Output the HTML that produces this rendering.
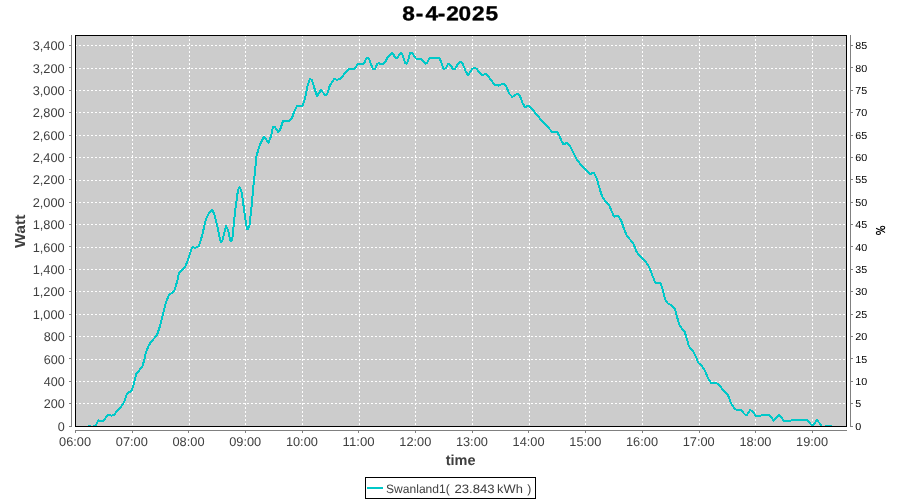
<!DOCTYPE html>
<html><head><meta charset="utf-8"><title>8-4-2025</title>
<style>html,body{margin:0;padding:0;background:#fff;}body{width:900px;height:500px;overflow:hidden;font-family:"Liberation Sans",sans-serif;}svg{display:block;will-change:transform;text-rendering:geometricPrecision;}text{font-family:"Liberation Sans",sans-serif;}</style>
</head><body>
<svg width="900" height="500" viewBox="0 0 900 500">
<rect x="0" y="0" width="900" height="500" fill="#ffffff"/>
<text transform="translate(450,20.3) rotate(0.05) translate(-450,0) scale(1.12,1)" x="359.25 371.15 379.85 390.80 398.56 409.36 421.42 433.55" y="0" font-size="20.2" font-weight="bold" fill="#000" stroke="#000" stroke-width="0.35">8-4-2025</text>
<rect x="75" y="35" width="771" height="391" fill="#cccccc"/>
<g stroke="#ffffff" stroke-width="1" stroke-dasharray="2,2" shape-rendering="crispEdges" fill="none">
<line x1="132.5" y1="35" x2="132.5" y2="426"/>
<line x1="189.5" y1="35" x2="189.5" y2="426"/>
<line x1="245.5" y1="35" x2="245.5" y2="426"/>
<line x1="302.5" y1="35" x2="302.5" y2="426"/>
<line x1="359.5" y1="35" x2="359.5" y2="426"/>
<line x1="415.5" y1="35" x2="415.5" y2="426"/>
<line x1="472.5" y1="35" x2="472.5" y2="426"/>
<line x1="529.5" y1="35" x2="529.5" y2="426"/>
<line x1="585.5" y1="35" x2="585.5" y2="426"/>
<line x1="642.5" y1="35" x2="642.5" y2="426"/>
<line x1="699.5" y1="35" x2="699.5" y2="426"/>
<line x1="755.5" y1="35" x2="755.5" y2="426"/>
<line x1="812.5" y1="35" x2="812.5" y2="426"/>
<line x1="75" y1="403.5" x2="846" y2="403.5"/>
<line x1="75" y1="381.5" x2="846" y2="381.5"/>
<line x1="75" y1="359.5" x2="846" y2="359.5"/>
<line x1="75" y1="336.5" x2="846" y2="336.5"/>
<line x1="75" y1="314.5" x2="846" y2="314.5"/>
<line x1="75" y1="291.5" x2="846" y2="291.5"/>
<line x1="75" y1="269.5" x2="846" y2="269.5"/>
<line x1="75" y1="247.5" x2="846" y2="247.5"/>
<line x1="75" y1="224.5" x2="846" y2="224.5"/>
<line x1="75" y1="202.5" x2="846" y2="202.5"/>
<line x1="75" y1="180.5" x2="846" y2="180.5"/>
<line x1="75" y1="157.5" x2="846" y2="157.5"/>
<line x1="75" y1="135.5" x2="846" y2="135.5"/>
<line x1="75" y1="112.5" x2="846" y2="112.5"/>
<line x1="75" y1="90.5" x2="846" y2="90.5"/>
<line x1="75" y1="68.5" x2="846" y2="68.5"/>
<line x1="75" y1="45.5" x2="846" y2="45.5"/>
</g>
<polyline points="88.0,425.5 91.0,425.5" fill="none" stroke="#00c8c8" stroke-width="2" stroke-linejoin="round" stroke-linecap="butt" shape-rendering="crispEdges"/>
<polyline points="93.0,425.5 96.0,425.5 98.3,420.2 100.8,421.0 103.6,420.7 106.4,416.8 107.5,414.8 111.7,415.7 114.2,414.8 117.0,410.9 120.4,407.8 122.6,404.5 124.3,401.7 126.8,394.0 131.7,390.4 133.5,385.0 136.2,374.2 142.5,366.1 144.3,359.8 146.1,351.7 148.8,345.4 151.0,342.0 157.0,335.0 160.0,326.0 163.0,314.0 166.0,302.0 169.0,295.0 174.0,291.6 177.0,282.0 179.0,273.0 185.0,267.0 188.0,260.0 190.0,253.0 192.4,247.0 195.0,248.0 199.0,246.0 202.0,236.0 206.0,219.0 209.0,213.0 212.0,210.0 214.0,213.0 217.0,225.0 220.3,240.5 221.2,242.4 222.2,241.0 223.0,238.0 226.0,226.0 228.0,230.0 229.6,237.5 230.5,241.2 231.5,241.4 232.4,238.5 235.0,212.0 238.0,190.0 239.6,187.0 241.6,192.0 245.0,216.0 246.2,225.0 247.2,228.8 248.3,228.6 249.6,225.0 252.0,202.0 254.0,180.0 255.3,170.0 256.0,158.0 259.0,147.0 263.6,137.0 266.0,139.0 268.6,143.0 271.0,136.0 273.0,127.0 275.0,127.0 278.0,132.0 280.0,130.0 283.0,121.0 287.0,121.0 289.0,121.6 292.0,118.0 294.0,112.0 297.0,106.0 301.0,106.4 303.0,105.0 305.0,98.0 308.0,84.0 310.0,79.0 312.0,80.0 314.0,87.0 317.0,96.0 321.0,90.0 325.0,95.0 327.0,94.4 330.0,85.0 334.0,79.4 337.0,79.6 340.0,79.2 344.4,73.9 348.9,68.9 352.8,69.4 355.0,68.3 357.8,63.9 362.8,63.9 364.4,62.8 366.1,58.9 367.8,57.8 369.4,60.0 372.8,68.9 375.0,68.9 377.2,63.9 378.9,63.3 380.6,63.9 382.8,63.9 385.6,61.1 387.8,57.2 391.7,52.8 393.3,54.4 395.6,58.3 397.2,58.3 400.6,52.8 402.2,53.9 405.0,62.8 406.7,63.9 408.3,60.0 410.0,52.8 411.7,52.8 413.9,55.6 416.1,58.7 420.6,58.7 422.8,61.1 425.6,63.9 427.2,62.8 429.4,58.3 431.1,57.8 432.8,58.5 434.4,58.3 439.4,57.8 441.1,61.7 443.3,68.9 445.6,68.3 448.3,63.9 450.6,65.0 452.8,68.9 455.0,68.9 458.3,63.3 460.6,61.7 462.8,63.9 465.6,71.1 467.8,75.0 469.4,73.3 472.2,68.9 474.4,67.8 476.7,68.9 479.4,72.8 482.2,75.0 486.1,73.9 488.9,77.2 492.2,81.7 495.0,85.0 498.3,85.6 502.2,83.9 504.4,84.4 506.7,87.2 508.9,93.3 510.0,94.5 512.4,97.0 515.0,95.0 518.0,93.6 520.0,96.0 523.0,104.0 525.0,107.0 529.0,105.6 532.0,109.0 537.0,115.0 542.0,121.0 548.0,127.0 552.0,132.0 557.0,132.0 559.0,135.0 562.0,142.0 563.6,144.4 567.0,142.6 570.0,146.0 573.0,152.0 577.0,160.0 582.0,166.0 586.0,170.4 590.0,174.0 594.0,172.8 596.6,178.0 599.4,188.0 602.0,196.0 605.0,200.6 609.0,205.0 612.0,212.0 614.0,216.6 618.0,216.0 621.0,220.0 624.0,229.0 627.0,236.0 633.0,243.0 637.0,252.5 643.0,259.0 647.4,264.0 650.0,269.0 653.0,277.0 655.4,283.0 660.6,283.0 662.6,289.0 665.0,299.0 668.0,303.6 672.0,305.6 675.0,309.0 677.4,318.0 679.4,325.0 682.0,328.6 684.6,331.6 686.6,338.0 689.0,346.5 693.0,351.0 696.0,357.0 698.4,363.0 702.0,366.0 705.0,371.0 708.0,378.0 711.0,383.0 718.0,383.6 722.0,388.6 728.0,395.0 731.0,403.0 735.0,409.4 741.0,410.0 745.0,414.6 747.0,415.0 750.0,410.0 752.4,411.0 756.0,416.0 759.0,416.0 760.6,415.6 762.8,414.8 768.9,414.8 773.9,420.6 778.9,414.8 783.9,420.6 807.2,420.3 811.7,425.2 813.3,425.2 816.7,420.0 821.7,425.5" fill="none" stroke="#00c8c8" stroke-width="2" stroke-linejoin="round" stroke-linecap="butt" shape-rendering="crispEdges"/>
<polyline points="825.0,425.5 832.0,425.5" fill="none" stroke="#00c8c8" stroke-width="2" stroke-linejoin="round" stroke-linecap="butt" shape-rendering="crispEdges"/>
<rect x="75.5" y="35.5" width="771" height="391" fill="none" stroke="#000" stroke-width="1.4" shape-rendering="crispEdges"/>
<g stroke="#808080" stroke-width="1" shape-rendering="crispEdges" fill="none">
<line x1="71.5" y1="35" x2="71.5" y2="427"/>
<line x1="850.5" y1="35" x2="850.5" y2="427"/>
<line x1="75" y1="430.5" x2="847" y2="430.5"/>
<line x1="69" y1="426.5" x2="71" y2="426.5"/>
<line x1="851" y1="426.5" x2="853" y2="426.5"/>
<line x1="69" y1="403.5" x2="71" y2="403.5"/>
<line x1="851" y1="403.5" x2="853" y2="403.5"/>
<line x1="69" y1="381.5" x2="71" y2="381.5"/>
<line x1="851" y1="381.5" x2="853" y2="381.5"/>
<line x1="69" y1="358.5" x2="71" y2="358.5"/>
<line x1="851" y1="358.5" x2="853" y2="358.5"/>
<line x1="69" y1="336.5" x2="71" y2="336.5"/>
<line x1="851" y1="336.5" x2="853" y2="336.5"/>
<line x1="69" y1="314.5" x2="71" y2="314.5"/>
<line x1="851" y1="314.5" x2="853" y2="314.5"/>
<line x1="69" y1="291.5" x2="71" y2="291.5"/>
<line x1="851" y1="291.5" x2="853" y2="291.5"/>
<line x1="69" y1="269.5" x2="71" y2="269.5"/>
<line x1="851" y1="269.5" x2="853" y2="269.5"/>
<line x1="69" y1="246.5" x2="71" y2="246.5"/>
<line x1="851" y1="246.5" x2="853" y2="246.5"/>
<line x1="69" y1="224.5" x2="71" y2="224.5"/>
<line x1="851" y1="224.5" x2="853" y2="224.5"/>
<line x1="69" y1="202.5" x2="71" y2="202.5"/>
<line x1="851" y1="202.5" x2="853" y2="202.5"/>
<line x1="69" y1="179.5" x2="71" y2="179.5"/>
<line x1="851" y1="179.5" x2="853" y2="179.5"/>
<line x1="69" y1="157.5" x2="71" y2="157.5"/>
<line x1="851" y1="157.5" x2="853" y2="157.5"/>
<line x1="69" y1="135.5" x2="71" y2="135.5"/>
<line x1="851" y1="135.5" x2="853" y2="135.5"/>
<line x1="69" y1="112.5" x2="71" y2="112.5"/>
<line x1="851" y1="112.5" x2="853" y2="112.5"/>
<line x1="69" y1="90.5" x2="71" y2="90.5"/>
<line x1="851" y1="90.5" x2="853" y2="90.5"/>
<line x1="69" y1="67.5" x2="71" y2="67.5"/>
<line x1="851" y1="67.5" x2="853" y2="67.5"/>
<line x1="69" y1="45.5" x2="71" y2="45.5"/>
<line x1="851" y1="45.5" x2="853" y2="45.5"/>
<line x1="75.5" y1="431" x2="75.5" y2="433"/>
<line x1="132.5" y1="431" x2="132.5" y2="433"/>
<line x1="188.5" y1="431" x2="188.5" y2="433"/>
<line x1="245.5" y1="431" x2="245.5" y2="433"/>
<line x1="302.5" y1="431" x2="302.5" y2="433"/>
<line x1="358.5" y1="431" x2="358.5" y2="433"/>
<line x1="415.5" y1="431" x2="415.5" y2="433"/>
<line x1="472.5" y1="431" x2="472.5" y2="433"/>
<line x1="528.5" y1="431" x2="528.5" y2="433"/>
<line x1="585.5" y1="431" x2="585.5" y2="433"/>
<line x1="642.5" y1="431" x2="642.5" y2="433"/>
<line x1="699.5" y1="431" x2="699.5" y2="433"/>
<line x1="755.5" y1="431" x2="755.5" y2="433"/>
<line x1="812.5" y1="431" x2="812.5" y2="433"/>
</g>
<g font-size="12.7" fill="#404040">
<text x="57.7" y="430.9" textLength="7" lengthAdjust="spacingAndGlyphs">0</text>
<text x="43.7" y="407.9" textLength="21" lengthAdjust="spacingAndGlyphs">200</text>
<text x="43.7" y="385.9" textLength="21" lengthAdjust="spacingAndGlyphs">400</text>
<text x="43.7" y="363.9" textLength="21" lengthAdjust="spacingAndGlyphs">600</text>
<text x="43.7" y="340.9" textLength="21" lengthAdjust="spacingAndGlyphs">800</text>
<text x="32.7" y="318.9" textLength="32" lengthAdjust="spacingAndGlyphs">1,000</text>
<text x="32.7" y="295.9" textLength="32" lengthAdjust="spacingAndGlyphs">1,200</text>
<text x="32.7" y="273.9" textLength="32" lengthAdjust="spacingAndGlyphs">1,400</text>
<text x="32.7" y="251.9" textLength="32" lengthAdjust="spacingAndGlyphs">1,600</text>
<text x="32.7" y="228.9" textLength="32" lengthAdjust="spacingAndGlyphs">1,800</text>
<text x="32.7" y="206.9" textLength="32" lengthAdjust="spacingAndGlyphs">2,000</text>
<text x="32.7" y="183.9" textLength="32" lengthAdjust="spacingAndGlyphs">2,200</text>
<text x="32.7" y="161.9" textLength="32" lengthAdjust="spacingAndGlyphs">2,400</text>
<text x="32.7" y="139.9" textLength="32" lengthAdjust="spacingAndGlyphs">2,600</text>
<text x="32.7" y="116.9" textLength="32" lengthAdjust="spacingAndGlyphs">2,800</text>
<text x="32.7" y="94.9" textLength="32" lengthAdjust="spacingAndGlyphs">3,000</text>
<text x="32.7" y="72.9" textLength="32" lengthAdjust="spacingAndGlyphs">3,200</text>
<text x="32.7" y="49.9" textLength="32" lengthAdjust="spacingAndGlyphs">3,400</text>
</g>
<g font-size="10.2" fill="#000">
<text x="855.3" y="429.9" textLength="6" lengthAdjust="spacingAndGlyphs">0</text>
<text x="855.3" y="406.9" textLength="6" lengthAdjust="spacingAndGlyphs">5</text>
<text x="855.3" y="384.9" textLength="12" lengthAdjust="spacingAndGlyphs">10</text>
<text x="855.3" y="362.9" textLength="12" lengthAdjust="spacingAndGlyphs">15</text>
<text x="855.3" y="339.9" textLength="12" lengthAdjust="spacingAndGlyphs">20</text>
<text x="855.3" y="317.9" textLength="12" lengthAdjust="spacingAndGlyphs">25</text>
<text x="855.3" y="294.9" textLength="12" lengthAdjust="spacingAndGlyphs">30</text>
<text x="855.3" y="272.9" textLength="12" lengthAdjust="spacingAndGlyphs">35</text>
<text x="855.3" y="250.9" textLength="12" lengthAdjust="spacingAndGlyphs">40</text>
<text x="855.3" y="227.9" textLength="12" lengthAdjust="spacingAndGlyphs">45</text>
<text x="855.3" y="205.9" textLength="12" lengthAdjust="spacingAndGlyphs">50</text>
<text x="855.3" y="182.9" textLength="12" lengthAdjust="spacingAndGlyphs">55</text>
<text x="855.3" y="160.9" textLength="12" lengthAdjust="spacingAndGlyphs">60</text>
<text x="855.3" y="138.9" textLength="12" lengthAdjust="spacingAndGlyphs">65</text>
<text x="855.3" y="115.9" textLength="12" lengthAdjust="spacingAndGlyphs">70</text>
<text x="855.3" y="93.9" textLength="12" lengthAdjust="spacingAndGlyphs">75</text>
<text x="855.3" y="71.9" textLength="12" lengthAdjust="spacingAndGlyphs">80</text>
<text x="855.3" y="48.9" textLength="12" lengthAdjust="spacingAndGlyphs">85</text>
</g>
<g font-size="12.7" fill="#404040">
<text x="59.1" y="446.0" textLength="32" lengthAdjust="spacingAndGlyphs">06:00</text>
<text x="115.8" y="446.0" textLength="32" lengthAdjust="spacingAndGlyphs">07:00</text>
<text x="172.5" y="446.0" textLength="32" lengthAdjust="spacingAndGlyphs">08:00</text>
<text x="229.2" y="446.0" textLength="32" lengthAdjust="spacingAndGlyphs">09:00</text>
<text x="285.9" y="446.0" textLength="32" lengthAdjust="spacingAndGlyphs">10:00</text>
<text x="342.6" y="446.0" textLength="32" lengthAdjust="spacingAndGlyphs">11:00</text>
<text x="399.3" y="446.0" textLength="32" lengthAdjust="spacingAndGlyphs">12:00</text>
<text x="455.9" y="446.0" textLength="32" lengthAdjust="spacingAndGlyphs">13:00</text>
<text x="512.6" y="446.0" textLength="32" lengthAdjust="spacingAndGlyphs">14:00</text>
<text x="569.3" y="446.0" textLength="32" lengthAdjust="spacingAndGlyphs">15:00</text>
<text x="626.0" y="446.0" textLength="32" lengthAdjust="spacingAndGlyphs">16:00</text>
<text x="682.7" y="446.0" textLength="32" lengthAdjust="spacingAndGlyphs">17:00</text>
<text x="739.4" y="446.0" textLength="32" lengthAdjust="spacingAndGlyphs">18:00</text>
<text x="796.1" y="446.0" textLength="32" lengthAdjust="spacingAndGlyphs">19:00</text>
</g>
<text x="460.6" y="464.8" text-anchor="middle" font-size="14.5" font-weight="bold" fill="#404040" textLength="29.8" lengthAdjust="spacingAndGlyphs">time</text>
<text transform="translate(25.3,231.3) rotate(-90)" text-anchor="middle" font-size="14.5" font-weight="bold" fill="#404040" textLength="33.5" lengthAdjust="spacingAndGlyphs">Watt</text>
<g fill="none" stroke="#000" stroke-width="1.05"><ellipse cx="882.65" cy="227.8" rx="2.1" ry="1.55"/><ellipse cx="878.4" cy="233.0" rx="2.1" ry="1.55"/><path d="M876.1,228.2 L878.6,229.4 L880.9,230.3 L883.4,231.4 L885.0,232.6"/></g>
<rect x="365.5" y="477.5" width="170" height="21" fill="#fff" stroke="#000" stroke-width="1" shape-rendering="crispEdges"/>
<line x1="367" y1="488" x2="383" y2="488" stroke="#00c8c8" stroke-width="2" shape-rendering="crispEdges"/>
<g font-size="12.2" fill="#404040">
<text x="386.1" y="493" textLength="63.6" lengthAdjust="spacingAndGlyphs">Swanland1(</text>
<text x="454.4" y="493" textLength="40.2" lengthAdjust="spacingAndGlyphs">23.843</text>
<text x="497.0" y="493" textLength="25.8" lengthAdjust="spacingAndGlyphs">kWh</text>
<text x="527.3" y="493">)</text>
</g>
</svg></body></html>
